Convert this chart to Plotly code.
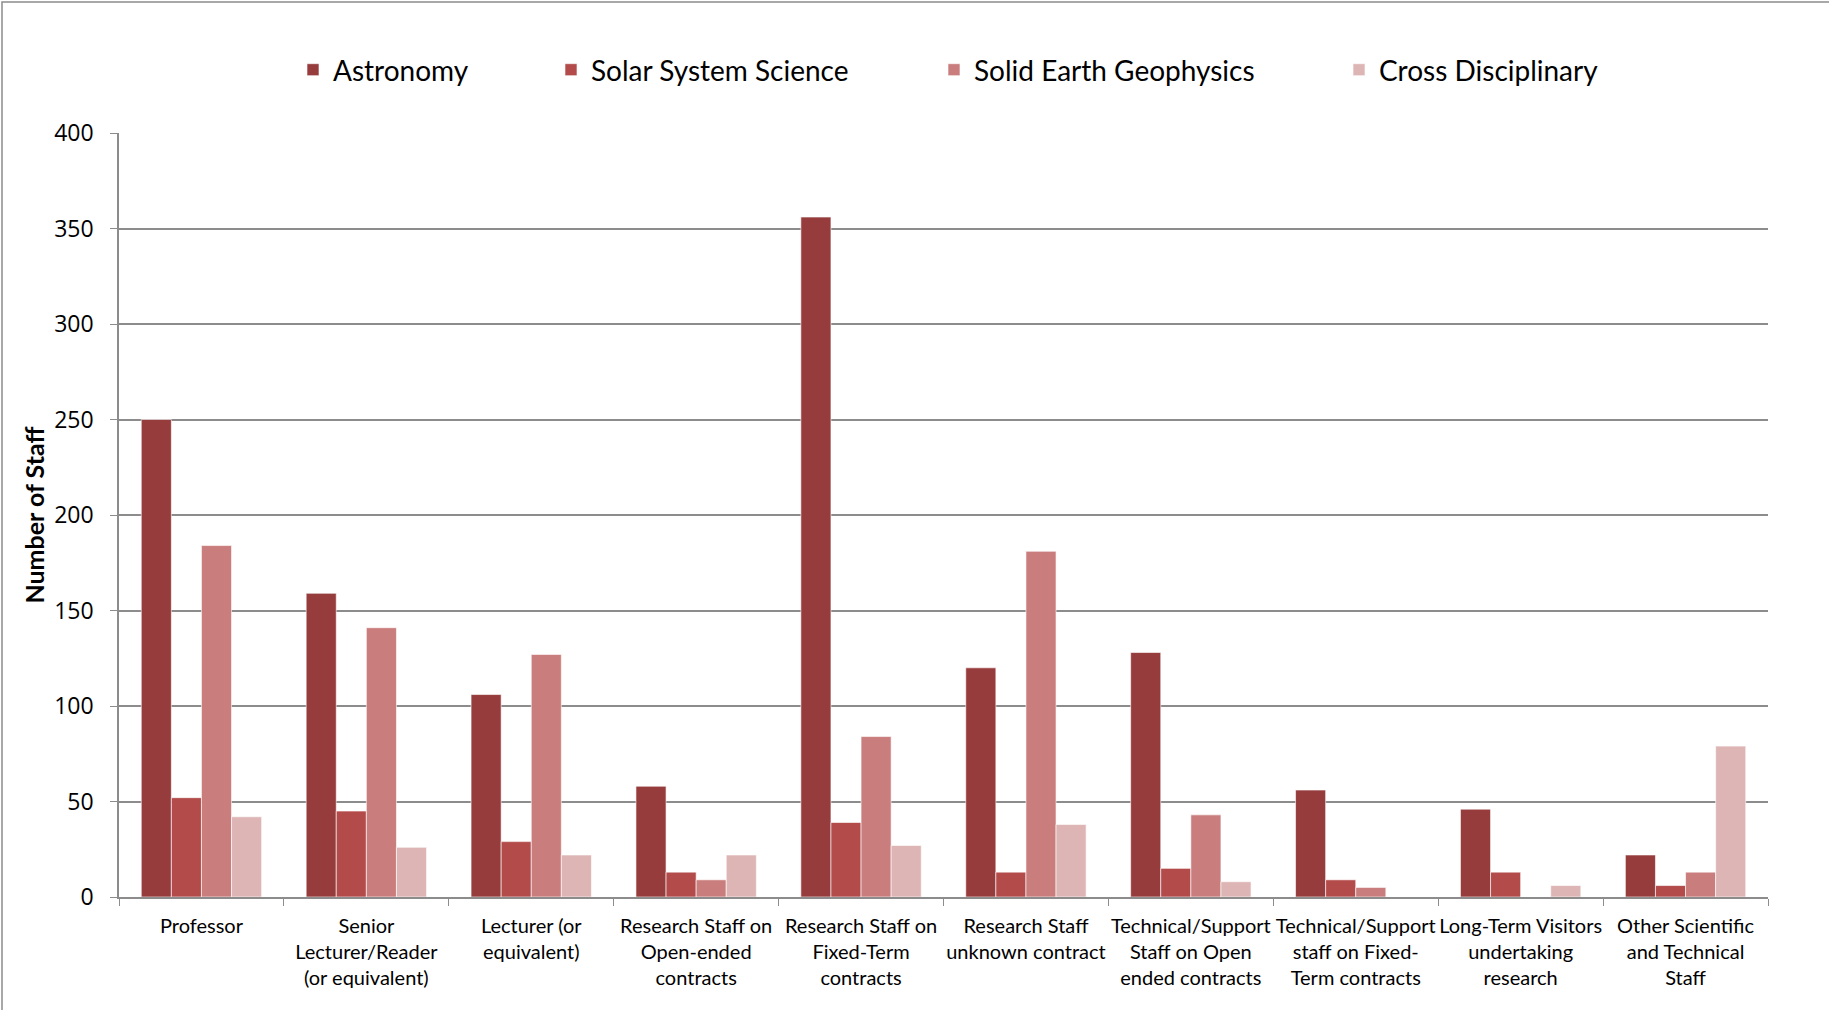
import plotly.graph_objects as go

categories = [
    "Professor",
    "Senior<br>Lecturer/Reader<br>(or equivalent)",
    "Lecturer (or<br>equivalent)",
    "Research Staff on<br>Open-ended<br>contracts",
    "Research Staff on<br>Fixed-Term<br>contracts",
    "Research Staff<br>unknown contract",
    "Technical/Support<br>Staff on Open<br>ended contracts",
    "Technical/Support<br>staff on Fixed-<br>Term contracts",
    "Long-Term Visitors<br>undertaking<br>research",
    "Other Scientific<br>and Technical<br>Staff",
]
astronomy = [250, 159, 106, 58, 356, 120, 128, 56, 46, 22]
solar_system = [52, 45, 29, 13, 39, 13, 15, 9, 13, 6]
solid_earth = [184, 141, 127, 9, 84, 181, 43, 5, 0, 13]
cross_disc = [42, 26, 22, 22, 27, 38, 8, 0, 6, 79]

series_names = ["Astronomy", "Solar System Science", "Solid Earth Geophysics", "Cross Disciplinary"]
series_vals = [astronomy, solar_system, solid_earth, cross_disc]
colors = ["#963C3C", "#B24B4A", "#C97E7D", "#DEB5B5"]
legend_ids = ["legend", "legend2", "legend3", "legend4"]

W, H = 1829, 1010
L, R, T, B = 119, 61, 133, 113
pw, ph = W - L - R, H - T - B

fig = go.Figure()
for name, vals, col, lg in zip(series_names, series_vals, colors, legend_ids):
    fig.add_trace(go.Bar(
        x=categories, y=vals, name=name, legend=lg,
        marker=dict(color=col, line=dict(color="rgba(255,255,255,0.6)", width=1)),
    ))

legend_px = [307, 565, 948, 1353]
legend_y = 1 + (T - 70) / ph
legend_common = dict(orientation="h", yanchor="middle", y=legend_y, xanchor="left",
                     font=dict(family="Lato", size=28, color="#000000"),
                     bgcolor="rgba(0,0,0,0)", itemwidth=30)
layout_legends = {}
for lg, px in zip(legend_ids, legend_px):
    layout_legends[lg] = dict(legend_common, x=(px - 14 - L) / pw)

fig.update_layout(
    width=W, height=H,
    margin=dict(l=L, r=R, t=T, b=B, autoexpand=False),
    paper_bgcolor="white", plot_bgcolor="white",
    barmode="group", bargap=0.27, bargroupgap=0,
    showlegend=True,
    **layout_legends,
    xaxis=dict(
        type="category", tickson="boundaries", ticks="outside", ticklen=7,
        tickcolor="#8C8C8C", showline=True, linecolor="#8C8C8C", linewidth=1.5,
        tickfont=dict(family="Lato", size=20, color="#000000"), tickangle=0,
        ticklabelstandoff=10, showgrid=False,
    ),
    yaxis=dict(
        range=[0, 400], dtick=50, ticks="outside", ticklen=7, tickcolor="#8C8C8C",
        showline=True, linecolor="#8C8C8C", linewidth=1.5,
        showgrid=True, gridcolor="#8C8C8C", gridwidth=1.5, zeroline=False,
        tickfont=dict(family="Open Sans", size=23, color="#000000"),
        ticklabelstandoff=12,
        title=dict(text="<b>Number of Staff</b>", font=dict(family="Lato", size=25, color="#000000"),
                   standoff=2),
    ),
    shapes=[dict(type="rect", xref="paper", yref="paper",
                 x0=(2 - L) / pw, x1=(W + 20 - L) / pw,
                 y0=-(H + 20 - T - ph) / ph, y1=1 + (T - 2) / ph,
                 line=dict(color="#8C8C8C", width=1.5), fillcolor="rgba(0,0,0,0)", layer="below")],
)

fig.write_html("out.html", post_script="document.body.style.margin='0';",
               config={"displayModeBar": False})
